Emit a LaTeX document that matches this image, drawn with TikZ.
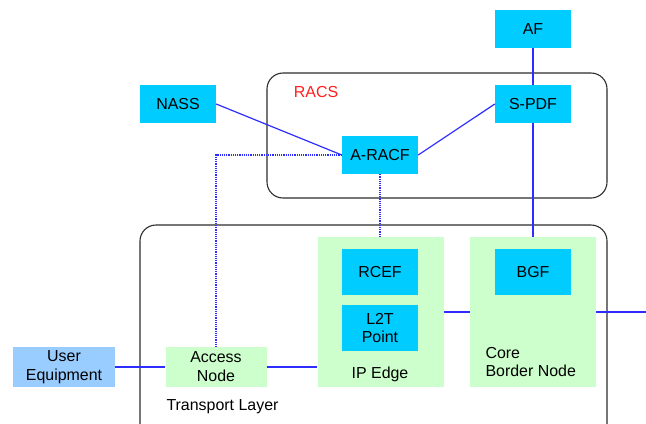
\documentclass[tikz,border=0pt]{standalone}
\usepackage{fontspec}
\setmainfont{Liberation Sans}
\usetikzlibrary{arrows.meta,positioning,calc}
\definecolor{fncyan}{RGB}{0,204,255}
\definecolor{nodegreen}{RGB}{204,255,204}
\definecolor{uelight}{RGB}{153,204,255}
\definecolor{linkblue}{RGB}{45,45,255}
\definecolor{racsred}{RGB}{255,30,30}
\definecolor{framegray}{RGB}{45,45,45}

\begin{document}
\begin{tikzpicture}[x=1bp,y=-1bp,>=Stealth,font=\fontsize{16}{19}\selectfont,
  fn/.style={fill=fncyan,minimum width=76bp,minimum height=38bp,inner sep=0pt,align=center},
  netnode/.style={fill=nodegreen,minimum width=101bp,minimum height=40bp,inner sep=0pt,align=center},
  edgebox/.style={fill=nodegreen,minimum width=126bp,minimum height=150bp,inner sep=0pt},
  layerframe/.style={draw=framegray,line width=1.1bp,rounded corners=16bp},
  link/.style={draw=linkblue,line width=1.2bp},
  ctrl/.style={draw=linkblue,line width=1.2bp,dash pattern=on 1.2bp off 1bp}]
\useasboundingbox (0,0) rectangle (646,423);
\clip (0,0) rectangle (646,423);
% domains
\draw[layerframe] (267,73) rectangle (607,198);
\draw[layerframe] (140,225) rectangle (607,440);
\node[text=racsred] (racs) at (316,92) {RACS};
\node[anchor=west] (tl) at (163,407) {Transport Layer};
% control plane
\node[fn] (af) at (533,29) {AF};
\node[fn] (nass) at (178,104) {NASS};
\node[fn] (spdf) at (533,104) {S-PDF};
\node[fn] (aracf) at (380,155) {A-RACF};
% transport plane
\node[edgebox] (ipedge) at (380.5,312) {};
\node[edgebox] (core) at (533,312) {};
\node[fn,minimum height=46bp] (rcef) at (380,272) {RCEF};
\node[fn,minimum height=46bp] (l2t) at (380,328) {L2T\\Point};
\node[fn,minimum height=46bp] (bgf) at (533,272) {BGF};
\node (iplbl) at (380,374) {IP Edge};
\node[anchor=west,align=left] (corelbl) at (482,362) {Core\\Border Node};
\node[netnode,fill=uelight] (ue) at (64,367) {User\\Equipment};
\node[netnode] (access) at (216,367) {Access\\Node};
\coordinate (out) at (646,312);
% links
\draw[link] (af) -- (spdf);
\draw[link] (spdf) -- (core.north);
\draw[link] (nass.east) -- (aracf.west);
\draw[link] (aracf.east) -- (spdf.west);
\draw[ctrl] (aracf.west) -| (access.north);
\draw[ctrl] (aracf.south) -- (aracf.south |- ipedge.north);
\draw[link] (ue) -- (access);
\draw[link] (access.east) -- (access.east -| ipedge.west);
\draw[link] (ipedge.east) -- (core.west);
\draw[link] (core.east) -- (out);
\end{tikzpicture}
\end{document}
